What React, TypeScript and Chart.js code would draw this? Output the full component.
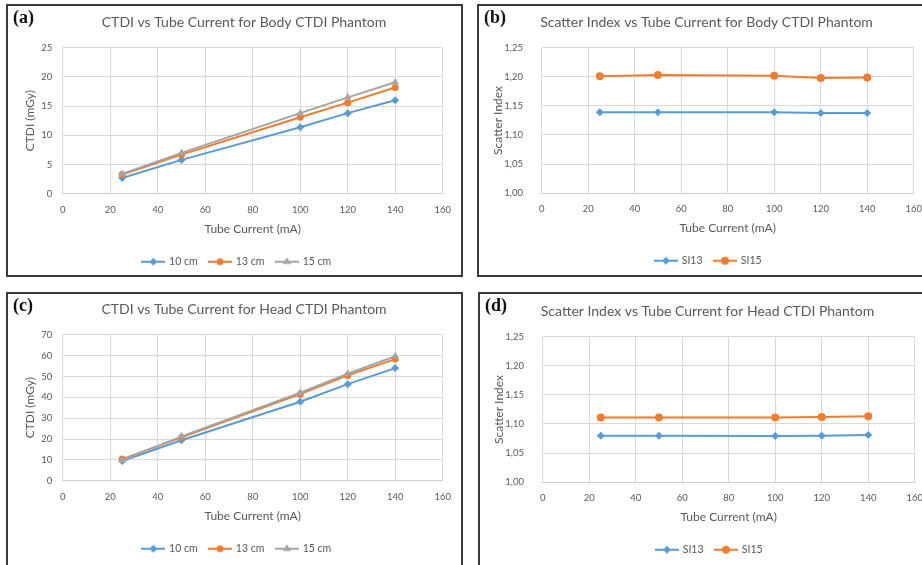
import React, { useEffect, useRef } from "react";
import { Chart, registerables } from "chart.js";
Chart.register(...registerables);

// ---------- data ----------
const tubeCurrentMA = [25, 50, 100, 120, 140];

const bodyCtdi10cm = [2.7, 5.8, 11.4, 13.8, 16.0];
const bodyCtdi13cm = [3.3, 6.7, 13.1, 15.6, 18.2];
const bodyCtdi15cm = [3.4, 7.0, 13.8, 16.5, 19.1];

const headCtdi10cm = [9.5, 19.4, 37.9, 46.3, 54.0];
const headCtdi13cm = [10.4, 20.8, 41.5, 50.5, 58.3];
const headCtdi15cm = [9.9, 21.3, 42.2, 51.3, 59.7];

const bodySI13 = [1.139, 1.139, 1.139, 1.138, 1.138];
const bodySI15 = [1.201, 1.203, 1.202, 1.198, 1.199];

const headSI13 = [1.08, 1.08, 1.0795, 1.08, 1.081];
const headSI15 = [1.111, 1.111, 1.111, 1.112, 1.1135];

const ctdiLabels = ["10 cm", "13 cm", "15 cm"];
const siLabels = ["SI13", "SI15"];

const panelTags = ["(a)", "(b)", "(c)", "(d)"];
const panelTitles = [
  "CTDI vs Tube Current for Body CTDI Phantom",
  "Scatter Index vs Tube Current for Body CTDI Phantom",
  "CTDI vs Tube Current for Head CTDI Phantom",
  "Scatter Index vs Tube Current for Head CTDI Phantom",
];
const xAxisTitle = "Tube Current (mA)";
const ctdiAxisTitle = "CTDI (mGy)";
const siAxisTitle = "Scatter Index";

const xMin = 0, xMax = 160, xStep = 20;
const bodyCtdiRange = [0, 25, 5];
const headCtdiRange = [0, 70, 10];
const siRange = [1.0, 1.25, 0.05];

// ---------- style ----------
const BLUE = "#5B9BD5";
const ORANGE = "#ED7D31";
const GRAY = "#A5A5A5";
const TEXT = "#595959";
const GRID = "#D9D9D9";
const FONT = "Lato, 'Open Sans', sans-serif";

type Marker = "rectRot" | "circle" | "triangle";
type Series = { label: string; data: number[]; color: string; marker: Marker; radius: number };

function drawMarker(g: CanvasRenderingContext2D, m: Marker, x: number, y: number, r: number) {
  g.beginPath();
  if (m === "circle") {
    g.arc(x, y, r, 0, Math.PI * 2);
  } else if (m === "rectRot") {
    g.moveTo(x, y - r);
    g.lineTo(x + r, y);
    g.lineTo(x, y + r);
    g.lineTo(x - r, y);
    g.closePath();
  } else {
    const h = r * 1.5;
    g.moveTo(x, y - r);
    g.lineTo(x + r * 0.95, y + h - r);
    g.lineTo(x - r * 0.95, y + h - r);
    g.closePath();
  }
  g.fill();
}

function legendIcon(s: Series) {
  const c = document.createElement("canvas");
  c.width = 24;
  c.height = 12;
  const g = c.getContext("2d")!;
  g.strokeStyle = s.color;
  g.lineWidth = 2;
  g.beginPath();
  g.moveTo(0, 6);
  g.lineTo(24, 6);
  g.stroke();
  g.fillStyle = s.color;
  drawMarker(g, s.marker, 12, 6, s.radius);
  return c;
}

type PanelDef = {
  tag: string;
  title: string;
  yTitle: string;
  range: number[];
  comma: boolean;
  series: Series[];
  box: { left: number; top: number; width: number; height: number };
  canvas: { left: number; top: number; width: number; height: number };
  titleX: number;
  titleY: number;
  padTop: number;
  padLeft: number;
  yAxisWidth: number;
  yTickPad: number;
  yTitlePad: number;
  rightGap: number;
  xAxisHeight: number;
};

function Panel({ def }: { def: PanelDef }) {
  const ref = useRef<HTMLCanvasElement | null>(null);
  useEffect(() => {
    if (!ref.current) return;
    const icons = def.series.map(legendIcon);
    const titlePlugin = {
      id: "panelTitle" + def.tag,
      afterDraw(chart: any) {
        const ctx = chart.ctx;
        ctx.save();
        ctx.font = `14px ${FONT}`;
        ctx.fillStyle = TEXT;
        ctx.textAlign = "center";
        ctx.textBaseline = "middle";
        ctx.fillText(def.title, def.titleX, def.titleY);
        ctx.restore();
      },
    };
    const n = def.series.length;
    const chart = new Chart(ref.current, {
      type: "line",
      data: {
        datasets: def.series.map((s, i) => ({
          label: s.label,
          data: s.data.map((v, k) => ({ x: tubeCurrentMA[k], y: v })),
          borderColor: s.color,
          backgroundColor: s.color,
          pointBackgroundColor: s.color,
          pointBorderColor: s.color,
          pointBorderWidth: 0,
          pointStyle: s.marker,
          pointRadius: s.radius,
          borderWidth: 2,
          tension: 0,
          order: n - i,
          yAxisID: "y",
        })),
      },
      options: {
        animation: false,
        responsive: false,
        maintainAspectRatio: false,
        layout: { padding: { top: def.padTop, left: def.padLeft, right: 0, bottom: 0 } },
        plugins: {
          title: { display: false },
          tooltip: { enabled: false },
          legend: {
            position: "bottom",
            labels: {
              usePointStyle: true,
              pointStyleWidth: 21,
              padding: 12,
              color: TEXT,
              font: { family: FONT, size: 10.5 },
              generateLabels: (c: any) =>
                c.data.datasets.map((ds: any, i: number) => ({
                  text: ds.label,
                  pointStyle: icons[i],
                  fillStyle: ds.borderColor,
                  strokeStyle: ds.borderColor,
                  lineWidth: 0,
                  hidden: false,
                  datasetIndex: i,
                  fontColor: TEXT,
                })),
            },
          },
        },
        scales: {
          x: {
            type: "linear",
            position: "bottom",
            min: xMin,
            max: xMax,
            ticks: { stepSize: xStep, color: TEXT, font: { family: FONT, size: 9.5 }, padding: 10 },
            grid: { color: GRID, drawTicks: false },
            border: { display: true, color: "#CFCFCF" },
            title: {
              display: true,
              text: xAxisTitle,
              color: TEXT,
              font: { family: FONT, size: 12 },
              padding: { top: 0, bottom: 8.5 },
            },
            afterFit: (s: any) => {
              s.height = def.xAxisHeight;
            },
          },
          y: {
            type: "linear",
            position: "left",
            min: def.range[0],
            max: def.range[1],
            ticks: {
              stepSize: def.range[2],
              color: TEXT,
              font: { family: FONT, size: 9.5 },
              padding: def.yTickPad,
              callback: (v: any) =>
                def.comma ? Number(v).toFixed(2).replace(".", ",") : String(Math.round(Number(v))),
            },
            grid: { color: GRID, drawTicks: false },
            border: { display: false },
            title: {
              display: true,
              text: def.yTitle,
              color: TEXT,
              font: { family: FONT, size: 12 },
              padding: { top: def.yTitlePad, bottom: 0 },
            },
            afterFit: (s: any) => {
              s.width = def.yAxisWidth;
            },
          },
          yR: {
            type: "linear",
            position: "right",
            display: true,
            ticks: { display: false },
            grid: { display: false, drawTicks: false },
            border: { display: false },
            afterFit: (s: any) => {
              s.width = def.rightGap;
            },
          },
        },
      } as any,
      plugins: [titlePlugin],
    });
    return () => chart.destroy();
  }, [def]);

  return (
    <>
      <div
        style={{
          position: "absolute",
          left: def.box.left,
          top: def.box.top,
          width: def.box.width,
          height: def.box.height,
          border: "2px solid #3a3a3a",
          boxSizing: "border-box",
        }}
      />
      <canvas
        ref={ref}
        width={def.canvas.width}
        height={def.canvas.height}
        style={{
          position: "absolute",
          left: def.canvas.left,
          top: def.canvas.top,
          width: def.canvas.width,
          height: def.canvas.height,
        }}
      />
      <div
        style={{
          position: "absolute",
          left: def.box.left + 7,
          top: def.box.top + 4,
          fontFamily: "'Liberation Serif', 'DejaVu Serif', serif",
          fontWeight: "bold",
          fontSize: 18,
          lineHeight: "18px",
          color: "#111",
        }}
      >
        {def.tag}
      </div>
    </>
  );
}

const ctdiSeries = (d10: number[], d13: number[], d15: number[]): Series[] => [
  { label: ctdiLabels[0], data: d10, color: BLUE, marker: "rectRot", radius: 4 },
  { label: ctdiLabels[1], data: d13, color: ORANGE, marker: "circle", radius: 3.5 },
  { label: ctdiLabels[2], data: d15, color: GRAY, marker: "triangle", radius: 4.5 },
];
const siSeries = (a: number[], b: number[]): Series[] => [
  { label: siLabels[0], data: a, color: BLUE, marker: "rectRot", radius: 4 },
  { label: siLabels[1], data: b, color: ORANGE, marker: "circle", radius: 4 },
];

const leftCommon = {
  titleX: 236,
  titleY: 16.5,
  padTop: 41.7,
  padLeft: 5,
  yAxisWidth: 49.8,
  yTickPad: 10.5,
  yTitlePad: 9.6,
  rightGap: 18.3,
  xAxisHeight: 50.7,
};
const rightCommon = {
  titleX: 227.5,
  titleY: 16.5,
  padTop: 41.7,
  padLeft: 6,
  yAxisWidth: 56.7,
  yTickPad: 18.7,
  yTitlePad: 6.4,
  rightGap: 18,
  xAxisHeight: 50.3,
};

const panels: PanelDef[] = [
  {
    tag: panelTags[0],
    title: panelTitles[0],
    yTitle: ctdiAxisTitle,
    range: bodyCtdiRange,
    comma: false,
    series: ctdiSeries(bodyCtdi10cm, bodyCtdi13cm, bodyCtdi15cm),
    box: { left: 6, top: 4, width: 457, height: 273 },
    canvas: { left: 8, top: 6, width: 453, height: 271 },
    ...leftCommon,
  },
  {
    tag: panelTags[1],
    title: panelTitles[1],
    yTitle: siAxisTitle,
    range: siRange,
    comma: true,
    series: siSeries(bodySI13, bodySI15),
    box: { left: 477, top: 4, width: 457, height: 273 },
    canvas: { left: 479, top: 6, width: 453, height: 270 },
    ...rightCommon,
  },
  {
    tag: panelTags[2],
    title: panelTitles[2],
    yTitle: ctdiAxisTitle,
    range: headCtdiRange,
    comma: false,
    series: ctdiSeries(headCtdi10cm, headCtdi13cm, headCtdi15cm),
    box: { left: 6, top: 292, width: 457, height: 276 },
    canvas: { left: 8, top: 293, width: 453, height: 271 },
    ...leftCommon,
  },
  {
    tag: panelTags[3],
    title: panelTitles[3],
    yTitle: siAxisTitle,
    range: siRange,
    comma: true,
    series: siSeries(headSI13, headSI15),
    box: { left: 478, top: 292, width: 457, height: 276 },
    canvas: { left: 480, top: 295, width: 453, height: 270 },
    ...rightCommon,
  },
];

export default function App() {
  return (
    <div
      style={{
        position: "fixed",
        left: 0,
        top: 0,
        width: 922,
        height: 565,
        overflow: "hidden",
        background: "#fff",
      }}
    >
      {panels.map((p) => (
        <Panel key={p.tag} def={p} />
      ))}
    </div>
  );
}
